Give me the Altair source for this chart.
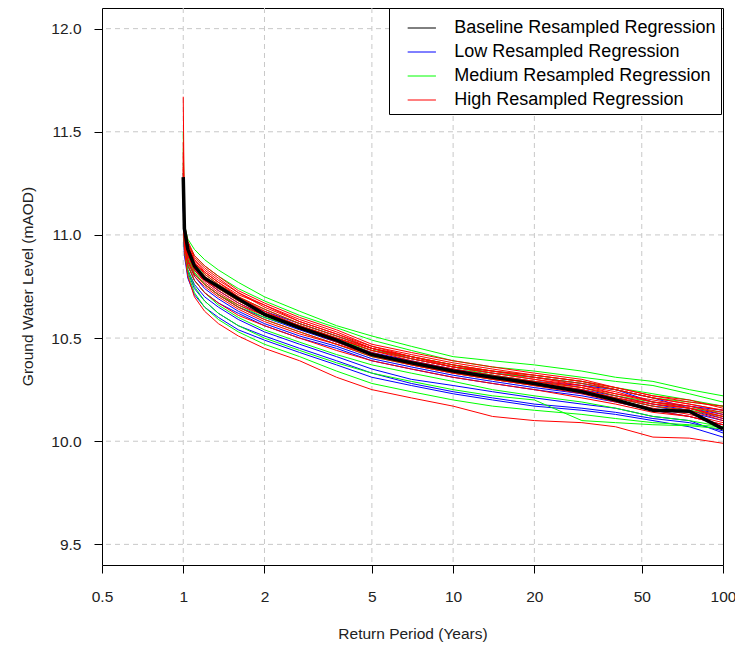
import altair as alt
import pandas as pd

# Return periods (years) at which each curve is sampled
T = [1.0, 1.01, 1.04, 1.1, 1.2, 1.35, 1.6, 2.0, 2.7, 3.7, 5.0, 7.0, 10.0, 14.0, 20.0, 30.0, 40.0, 55.0, 75.0, 100.0]

baseline = [11.28, 11.03, 10.93, 10.85, 10.79, 10.75, 10.69, 10.615, 10.55, 10.49, 10.42, 10.38, 10.34, 10.31, 10.28, 10.24, 10.20, 10.15, 10.145, 10.06]

low_curves = [
    [11.30, 11.00, 10.91, 10.84, 10.79, 10.74, 10.69, 10.63, 10.57, 10.51, 10.45, 10.40, 10.36, 10.33, 10.31, 10.28, 10.25, 10.19, 10.17, 10.15],
    [11.25, 10.97, 10.88, 10.81, 10.76, 10.71, 10.65, 10.60, 10.54, 10.48, 10.42, 10.38, 10.34, 10.31, 10.28, 10.25, 10.22, 10.18, 10.15, 10.11],
    [11.22, 10.95, 10.85, 10.78, 10.72, 10.67, 10.62, 10.56, 10.50, 10.45, 10.39, 10.35, 10.31, 10.28, 10.25, 10.22, 10.19, 10.15, 10.12, 10.08],
    [11.18, 10.93, 10.82, 10.74, 10.68, 10.62, 10.56, 10.51, 10.45, 10.39, 10.33, 10.28, 10.24, 10.21, 10.18, 10.16, 10.14, 10.11, 10.09, 10.05],
    [11.15, 10.90, 10.79, 10.71, 10.65, 10.60, 10.54, 10.49, 10.43, 10.37, 10.31, 10.27, 10.23, 10.20, 10.17, 10.15, 10.13, 10.10, 10.07, 10.02],
    [11.20, 10.96, 10.87, 10.80, 10.74, 10.69, 10.63, 10.57, 10.51, 10.46, 10.40, 10.36, 10.32, 10.29, 10.26, 10.23, 10.21, 10.17, 10.14, 10.10],
    [11.24, 10.98, 10.90, 10.83, 10.78, 10.73, 10.67, 10.61, 10.55, 10.49, 10.43, 10.39, 10.35, 10.32, 10.29, 10.27, 10.25, 10.21, 10.16, 10.13],
    [11.16, 10.92, 10.83, 10.76, 10.70, 10.65, 10.59, 10.53, 10.47, 10.41, 10.35, 10.30, 10.27, 10.24, 10.21, 10.18, 10.16, 10.12, 10.10, 10.04],
]

medium_curves = [
    [11.50, 11.05, 10.98, 10.93, 10.88, 10.83, 10.77, 10.70, 10.63, 10.56, 10.51, 10.46, 10.41, 10.39, 10.37, 10.34, 10.31, 10.29, 10.25, 10.22],
    [11.42, 11.03, 10.96, 10.90, 10.85, 10.80, 10.74, 10.68, 10.61, 10.55, 10.49, 10.44, 10.39, 10.36, 10.34, 10.31, 10.29, 10.27, 10.23, 10.19],
    [11.35, 11.00, 10.93, 10.86, 10.81, 10.76, 10.70, 10.64, 10.57, 10.51, 10.45, 10.41, 10.37, 10.33, 10.31, 10.28, 10.25, 10.21, 10.19, 10.17],
    [11.30, 10.98, 10.89, 10.82, 10.76, 10.71, 10.65, 10.59, 10.53, 10.47, 10.41, 10.37, 10.33, 10.30, 10.27, 10.24, 10.21, 10.17, 10.15, 10.12],
    [11.25, 10.96, 10.86, 10.78, 10.72, 10.66, 10.60, 10.54, 10.48, 10.42, 10.37, 10.33, 10.29, 10.25, 10.22, 10.19, 10.16, 10.12, 10.10, 10.07],
    [11.20, 10.94, 10.83, 10.75, 10.68, 10.62, 10.56, 10.50, 10.44, 10.38, 10.33, 10.29, 10.25, 10.22, 10.20, 10.10, 10.09, 10.08, 10.075, 10.06],
    [11.18, 10.93, 10.81, 10.72, 10.65, 10.59, 10.53, 10.47, 10.41, 10.34, 10.28, 10.24, 10.20, 10.17, 10.15, 10.13, 10.11, 10.09, 10.08, 10.07],
    [11.28, 10.99, 10.91, 10.84, 10.79, 10.74, 10.68, 10.62, 10.56, 10.50, 10.44, 10.40, 10.36, 10.32, 10.29, 10.26, 10.22, 10.19, 10.16, 10.14],
    [11.22, 10.97, 10.88, 10.81, 10.76, 10.71, 10.66, 10.60, 10.55, 10.49, 10.44, 10.41, 10.37, 10.34, 10.32, 10.29, 10.26, 10.23, 10.20, 10.17],
]

high_curves = [
    [11.67, 11.05, 10.97, 10.90, 10.85, 10.80, 10.73, 10.67, 10.60, 10.54, 10.47, 10.43, 10.39, 10.36, 10.33, 10.30, 10.26, 10.22, 10.19, 10.17],
    [11.45, 11.02, 10.95, 10.88, 10.83, 10.78, 10.72, 10.65, 10.58, 10.52, 10.46, 10.41, 10.37, 10.34, 10.31, 10.28, 10.25, 10.21, 10.18, 10.15],
    [11.38, 11.04, 10.94, 10.87, 10.81, 10.76, 10.70, 10.64, 10.57, 10.51, 10.45, 10.40, 10.36, 10.33, 10.30, 10.27, 10.23, 10.20, 10.17, 10.13],
    [11.32, 11.00, 10.92, 10.85, 10.80, 10.75, 10.69, 10.63, 10.56, 10.50, 10.44, 10.39, 10.35, 10.32, 10.29, 10.26, 10.22, 10.18, 10.16, 10.12],
    [11.30, 10.98, 10.90, 10.83, 10.78, 10.73, 10.67, 10.61, 10.55, 10.49, 10.43, 10.38, 10.35, 10.31, 10.29, 10.25, 10.21, 10.17, 10.15, 10.10],
    [11.25, 10.97, 10.88, 10.81, 10.76, 10.71, 10.65, 10.59, 10.53, 10.47, 10.41, 10.37, 10.33, 10.30, 10.27, 10.24, 10.20, 10.16, 10.13, 10.09],
    [11.22, 10.95, 10.85, 10.78, 10.72, 10.67, 10.61, 10.56, 10.50, 10.44, 10.39, 10.35, 10.31, 10.28, 10.25, 10.21, 10.18, 10.14, 10.12, 10.08],
    [11.20, 10.92, 10.80, 10.70, 10.63, 10.57, 10.51, 10.45, 10.39, 10.31, 10.25, 10.21, 10.17, 10.12, 10.10, 10.09, 10.07, 10.02, 10.015, 9.99],
    [11.35, 11.01, 10.93, 10.86, 10.82, 10.77, 10.71, 10.66, 10.59, 10.53, 10.46, 10.42, 10.38, 10.35, 10.32, 10.29, 10.26, 10.22, 10.20, 10.16],
    [11.28, 10.99, 10.91, 10.84, 10.78, 10.74, 10.68, 10.62, 10.56, 10.50, 10.44, 10.40, 10.36, 10.33, 10.30, 10.26, 10.23, 10.19, 10.17, 10.14],
    [11.40, 11.03, 10.96, 10.89, 10.84, 10.79, 10.72, 10.66, 10.58, 10.52, 10.45, 10.41, 10.36, 10.34, 10.31, 10.27, 10.24, 10.19, 10.16, 10.12],
    [11.26, 10.99, 10.90, 10.83, 10.77, 10.72, 10.66, 10.61, 10.56, 10.50, 10.45, 10.41, 10.37, 10.34, 10.32, 10.29, 10.25, 10.21, 10.18, 10.15],
    [11.33, 11.02, 10.94, 10.88, 10.82, 10.77, 10.70, 10.63, 10.55, 10.48, 10.42, 10.37, 10.33, 10.30, 10.27, 10.23, 10.19, 10.15, 10.12, 10.08],
    [11.24, 10.96, 10.87, 10.80, 10.75, 10.70, 10.64, 10.58, 10.52, 10.47, 10.42, 10.38, 10.34, 10.31, 10.28, 10.25, 10.21, 10.18, 10.16, 10.11],
]

labels = ["Baseline Resampled Regression", "Low Resampled Regression",
          "Medium Resampled Regression", "High Resampled Regression"]
colors = ["#000000", "#0000FF", "#00FF00", "#FF0000"]
x_ticks = [0.5, 1, 2, 5, 10, 20, 50, 100]
x_grid = [1, 2, 5, 10, 20, 50]
y_ticks = [9.5, 10.0, 10.5, 11.0, 11.5, 12.0]

rows = []
def add(group, cid, vals):
    for i, (t, v) in enumerate(zip(T, vals)):
        rows.append({"group": group, "curve": cid, "T": t, "level": v, "i": i})

for k, c in enumerate(low_curves):
    add(labels[1], f"L{k:02d}", c)
for k, c in enumerate(medium_curves):
    add(labels[2], f"M{k:02d}", c)
for k, c in enumerate(high_curves):
    add(labels[3], f"N{k:02d}", c)
df_col = pd.DataFrame(rows)
rows = []
add(labels[0], "B", baseline)
df_base = pd.DataFrame(rows)

FONT = "Liberation Sans"

x_enc = alt.X("T:Q", scale=alt.Scale(type="log", domain=[0.5, 100], nice=False),
              axis=alt.Axis(values=x_ticks, format="~g", title="Return Period (Years)",
                            labelFlush=False, labelOverlap=False, labelPadding=16,
                            titleY=61, titleBaseline="top"))
y_enc = alt.Y("level:Q", scale=alt.Scale(domain=[9.4, 12.1], nice=False, zero=False),
              axis=alt.Axis(values=y_ticks, format=".1f", title="Ground Water Level (mAOD)",
                            labelPadding=13, labelOverlap=False,
                            titleX=-75, titleY=278, titleAngle=-90,
                            titleBaseline="middle", titleAlign="center"))
color_enc = alt.Color("group:N", scale=alt.Scale(domain=labels, range=colors),
                      legend=alt.Legend(title=None, orient="none", legendX=287, legendY=0,
                                        symbolType="stroke", symbolSize=800,
                                        symbolStrokeWidth=1, labelFontSize=18,
                                        labelFont=FONT, labelColor="black", labelLimit=500,
                                        strokeColor="black", fillColor="white",
                                        padding=5, symbolOffset=12.8, labelOffset=17.5,
                                        rowPadding=0, cornerRadius=0))

grid_style = dict(color="#c8c8c8", strokeDash=[5, 4], strokeWidth=1)
grid_v = alt.Chart(pd.DataFrame({"T": x_grid})).mark_rule(**grid_style).encode(x=x_enc)
grid_h = alt.Chart(pd.DataFrame({"level": y_ticks})).mark_rule(**grid_style).encode(y=y_enc)

colored = alt.Chart(df_col).mark_line(strokeWidth=1, clip=True).encode(
    x=x_enc, y=y_enc, color=color_enc, detail="curve:N", order="i:Q")
black = alt.Chart(df_base).mark_line(strokeWidth=3.5, clip=True).encode(
    x=x_enc, y=y_enc, color=color_enc, order="i:Q")

chart = alt.layer(grid_v, grid_h, colored, black).properties(
    width=621, height=557,
    autosize=alt.AutoSizeParams(type="none"),
    padding={"left": 94, "top": 0, "right": 12, "bottom": 79},
).configure_axis(
    domain=False, grid=False,
    tickColor="black", tickSize=8, tickWidth=1,
    labelFont=FONT, labelFontSize=15.5, labelColor="#222222",
    titleFont=FONT, titleFontSize=15.5, titleFontWeight="normal", titleColor="#222222",
).configure_view(stroke="black", strokeWidth=1)

chart.save("out.html", embed_options={"renderer": "svg", "actions": False})
